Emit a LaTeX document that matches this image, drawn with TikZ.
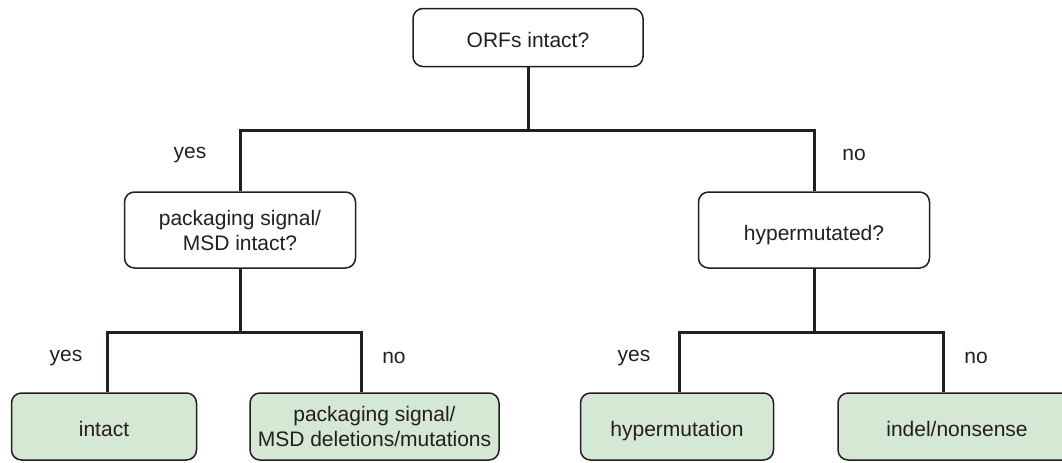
\documentclass[tikz,border=0pt]{standalone}
\usepackage{fontspec}
\setmainfont{Liberation Sans}
\usepackage{tikz}
\usetikzlibrary{positioning}
\definecolor{inkgray}{HTML}{231F20}
\definecolor{leafgreen}{HTML}{D5E8D4}
\tikzstyle{question} = [
  rectangle, draw=inkgray, fill=white, line width=0.75pt,
  rounded corners=5pt, align=center, text=inkgray, inner sep=0pt,
  font=\fontsize{10.5}{12.5}\selectfont
]
\tikzstyle{outcome} = [question, fill=leafgreen]
\tikzstyle{oneline} = [text height=10pt, text depth=0pt]
\tikzstyle{branch} = [draw=inkgray, line width=1.5pt]
\tikzstyle{answer} = [text=inkgray, inner sep=0pt, font=\fontsize{10.5}{12.5}\selectfont]

\begin{document}
\begin{tikzpicture}[x=0.5pt, y=-0.5pt]

  \useasboundingbox (0,0) rectangle (1062,462);

  % Questions
  \node[question, oneline, minimum width=115pt, minimum height=29pt]
    (orf) at (528, 37.5) {ORFs intact?};
  \node[question, minimum width=115.5pt, minimum height=38pt]
    (pkg) at (240, 230) {packaging signal/\\MSD intact?};
  \node[question, oneline, minimum width=115.5pt, minimum height=38pt]
    (hyp) at (814, 230) {hypermutated?};

  % Outcomes
  \node[outcome, oneline, minimum width=92.5pt, minimum height=33.5pt]
    (intact) at (104, 426.5) {intact};
  \node[outcome, minimum width=124.5pt, minimum height=33.5pt]
    (del) at (374.5, 426.5) {packaging signal/\\MSD deletions/mutations};
  \node[outcome, oneline, minimum width=96.5pt, minimum height=33.5pt]
    (hypm) at (677, 426.5) {hypermutation};
  \node[outcome, oneline, minimum width=119pt, minimum height=33.5pt]
    (indel) at (957, 426.5) {indel/nonsense};

  % Branch points
  \coordinate (split1) at (528, 130);
  \coordinate (split2) at (240, 332);
  \coordinate (split3) at (814, 332);

  % Connections
  \draw[branch] (orf.south) -- (split1);
  \draw[branch] (split1) -| (pkg.north);
  \draw[branch] (split1) -| (hyp.north);

  \draw[branch] (pkg.south) -- (split2);
  \draw[branch] (split2) -| ([xshift=1.5pt]intact.north);
  \draw[branch] (split2) -| ([xshift=-6.75pt]del.north);

  \draw[branch] (hyp.south) -- (split3);
  \draw[branch] (split3) -| ([xshift=1pt]hypm.north);
  \draw[branch] (split3) -| ([xshift=-7pt]indel.north);

  % Answers
  \node[answer] (yes1) at (190, 155) {yes};
  \node[answer] (no1) at (854, 155) {no};
  \node[answer] (yes2) at (66, 358) {yes};
  \node[answer] (no2) at (394, 358) {no};
  \node[answer] (yes3) at (634, 358) {yes};
  \node[answer] (no3) at (976, 358) {no};

\end{tikzpicture}
\end{document}
